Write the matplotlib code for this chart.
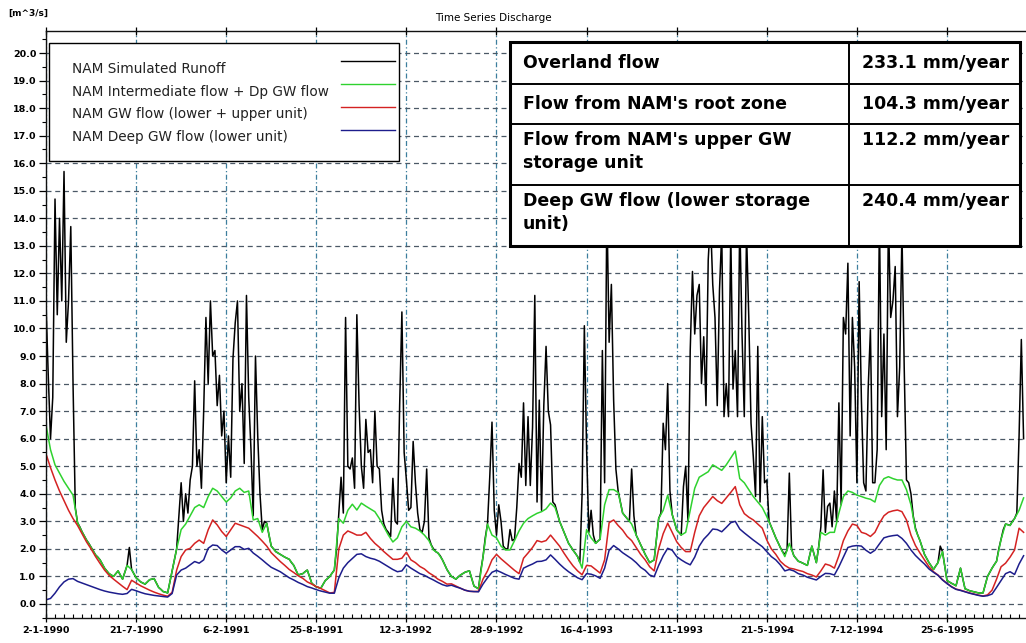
import datetime as dt
import numpy as np
import matplotlib
matplotlib.use("Agg")
import matplotlib.pyplot as plt
from matplotlib.lines import Line2D
from matplotlib.patches import Rectangle
from matplotlib.ticker import FixedLocator, MultipleLocator, FuncFormatter, FormatStrFormatter

plt.rcParams["font.family"] = ["DejaVu Sans"]
plt.rcParams["font.weight"] = "bold"

# discharge in m^3/s, first sample on 2-1-1990
start_date = dt.date(1990, 1, 2)
runoff_step = 5     # days between samples of the simulated runoff
gw_step = 10        # days between samples of the three slower components

runoff = [
    10.9, 8.3, 6.0, 7.5, 14.7, 10.5, 14.0, 11.0, 15.7, 9.5, 11.0, 13.7, 8.0, 3.5, 2.95, 2.8, 2.62, 2.47, 2.32, 2.2,
    2.06, 1.92, 1.78, 1.7, 1.6, 1.45, 1.3, 1.2, 1.1, 1.05, 1.0, 1.1, 1.2, 1.05, 0.9, 1.15, 1.4, 2.05, 1.25, 1.1,
    0.95, 0.88, 0.8, 0.76, 0.72, 0.8, 0.88, 0.9, 0.92, 0.76, 0.6, 0.53, 0.45, 0.43, 0.4, 0.8, 1.2, 1.6, 2.0, 3.2,
    4.4, 3.0, 4.0, 3.3, 4.5, 5.0, 8.1, 5.0, 5.6, 4.2, 7.0, 10.4, 8.0, 11.0, 9.0, 9.2, 7.2, 8.3, 6.1, 7.0,
    4.4, 6.1, 4.6, 8.9, 10.2, 11.0, 7.0, 8.0, 5.1, 11.2, 7.5, 5.6, 3.2, 9.0, 6.1, 4.0, 2.7, 3.0, 2.93, 2.5,
    2.1, 2.0, 1.9, 1.85, 1.8, 1.75, 1.7, 1.66, 1.62, 1.5, 1.4, 1.22, 1.05, 1.08, 1.1, 1.17, 1.23, 0.99, 0.75, 0.68,
    0.62, 0.6, 0.57, 0.71, 0.85, 0.92, 1.0, 1.12, 1.23, 2.0, 3.3, 4.6, 3.3, 10.4, 5.0, 4.9, 5.3, 4.2, 10.5, 7.2,
    5.0, 4.2, 6.7, 5.5, 5.6, 4.4, 7.0, 5.0, 4.9, 3.4, 2.9, 2.7, 2.6, 2.45, 4.56, 3.0, 2.9, 7.2, 10.6, 5.5,
    4.5, 3.4, 3.5, 5.9, 4.4, 3.3, 2.7, 2.6, 3.0, 4.9, 2.4, 2.15, 2.0, 1.9, 1.85, 1.75, 1.6, 1.43, 1.25, 1.12,
    1.0, 0.95, 0.9, 0.98, 1.05, 1.1, 1.15, 1.18, 1.2, 0.93, 0.65, 0.6, 0.55, 1.2, 1.7, 2.4, 2.9, 4.6, 6.6, 3.4,
    2.5, 3.6, 3.0, 2.1, 2.0, 2.0, 2.7, 2.3, 2.35, 3.5, 5.1, 4.6, 7.3, 4.3, 6.8, 4.3, 6.4, 11.2, 3.7, 7.4,
    3.4, 7.2, 9.35, 7.0, 6.5, 3.7, 3.6, 3.3, 3.0, 2.8, 2.6, 2.4, 2.2, 2.08, 1.95, 1.84, 1.72, 1.51, 4.0, 10.1,
    5.6, 2.6, 3.4, 2.5, 2.2, 2.28, 2.35, 9.2, 4.4, 14.5, 9.5, 11.6, 7.4, 4.9, 4.1, 3.7, 3.3, 3.2, 3.1, 3.0,
    4.9, 3.2, 2.5, 2.33, 2.15, 1.98, 1.8, 1.65, 1.5, 1.55, 1.6, 2.35, 3.1, 3.3, 6.56, 5.6, 8.0, 4.1, 3.25, 2.97,
    2.69, 2.6, 2.5, 4.26, 5.0, 3.0, 9.2, 12.07, 9.8, 11.2, 11.6, 8.0, 9.7, 7.2, 12.5, 14.0, 11.6, 10.4, 7.2, 11.4,
    13.5, 6.8, 8.0, 6.8, 13.5, 7.8, 9.2, 6.8, 14.0, 9.8, 6.8, 13.5, 10.4, 6.56, 5.35, 3.9, 9.35, 3.7, 6.8, 4.4,
    4.5, 3.0, 2.8, 2.6, 2.4, 2.23, 2.05, 1.9, 1.8, 1.96, 4.75, 2.0, 1.75, 1.65, 1.55, 1.52, 1.48, 1.44, 1.4, 1.75,
    2.1, 1.8, 1.5, 2.05, 2.8, 4.87, 2.6, 3.54, 3.66, 2.8, 4.1, 3.0, 7.3, 3.6, 10.4, 9.8, 12.37, 6.1, 10.4, 8.6,
    4.4, 11.7, 7.4, 4.4, 4.1, 7.8, 9.95, 4.4, 4.4, 5.6, 14.0, 6.8, 9.8, 5.6, 14.0, 10.4, 11.0, 12.25, 6.8, 8.6,
    13.5, 8.6, 4.5, 4.4, 4.0, 3.2, 2.75, 2.5, 2.3, 2.05, 1.8, 1.65, 1.5, 1.38, 1.25, 1.38, 1.5, 2.1, 1.9, 1.38,
    0.85, 0.8, 0.75, 0.71, 0.66, 0.98, 1.3, 0.93, 0.55, 0.52, 0.48, 0.46, 0.44, 0.42, 0.4, 0.4, 0.4, 0.7, 1.0, 1.15,
    1.3, 1.43, 1.55, 2.0, 2.35, 2.7, 2.9, 2.88, 2.85, 3.0, 3.1, 3.3, 6.1, 9.6, 6.0,
]

interflow_gw = [
    6.5, 5.6, 5.05, 4.75, 4.45, 4.2, 3.95, 2.95, 2.62, 2.32,
    2.06, 1.78, 1.6, 1.3, 1.1, 1.0, 1.2, 0.9, 1.4, 1.25,
    0.95, 0.8, 0.72, 0.88, 0.92, 0.6, 0.45, 0.4, 1.2, 2.0,
    2.7, 2.9, 3.2, 3.5, 3.6, 3.5, 3.9, 4.2, 4.1, 3.9,
    3.7, 3.85, 4.1, 4.2, 4.05, 4.1, 3.05, 3.1, 2.6, 2.93,
    2.1, 1.9, 1.8, 1.7, 1.62, 1.4, 1.05, 1.1, 1.23, 0.75,
    0.62, 0.57, 0.85, 1.0, 1.23, 3.1, 2.93, 3.4, 3.62, 3.41,
    3.66, 3.55, 3.45, 3.35, 3.1, 2.8, 2.5, 2.25, 2.4, 2.8,
    3.0, 2.8, 2.75, 2.65, 2.5, 2.3, 1.96, 1.85, 1.6, 1.25,
    1.0, 0.9, 1.05, 1.15, 1.2, 0.65, 0.55, 1.7, 2.9, 2.5,
    2.4, 2.1, 1.96, 1.96, 2.3, 2.65, 2.93, 3.1, 3.2, 3.29,
    3.35, 3.45, 3.66, 3.5, 3.0, 2.6, 2.2, 1.95, 1.72, 1.3,
    2.7, 2.4, 2.2, 2.35, 3.6, 4.15, 4.15, 4.05, 3.3, 3.1,
    2.9, 2.5, 2.15, 1.8, 1.5, 1.6, 3.1, 3.4, 3.95, 3.25,
    2.69, 2.5, 2.6, 3.4, 4.2, 4.6, 4.7, 4.8, 5.05, 4.95,
    4.85, 5.05, 5.3, 5.55, 4.55, 4.4, 4.15, 3.9, 3.7, 3.5,
    3.17, 2.8, 2.4, 2.05, 1.72, 2.2, 1.75, 1.55, 1.48, 1.4,
    2.1, 1.5, 2.6, 2.5, 2.6, 2.6, 3.3, 3.9, 4.1, 4.05,
    3.95, 3.9, 3.84, 3.8, 3.7, 4.3, 4.55, 4.62, 4.55, 4.5,
    4.5, 4.15, 3.6, 2.7, 2.3, 1.8, 1.5, 1.25, 1.5, 1.9,
    0.85, 0.75, 0.66, 1.3, 0.55, 0.48, 0.44, 0.4, 0.4, 1.0,
    1.3, 1.55, 2.35, 2.9, 2.85, 3.1, 3.4, 3.85,
]

gw_flow = [
    5.45, 4.95, 4.5, 4.1, 3.75, 3.4, 3.1, 2.85, 2.55, 2.25,
    2.0, 1.72, 1.47, 1.23, 1.04, 0.9, 0.77, 0.64, 0.52, 0.86,
    0.76, 0.66, 0.58, 0.5, 0.43, 0.37, 0.32, 0.28, 0.42, 1.23,
    1.72, 1.96, 2.02, 2.2, 2.32, 2.2, 2.69, 3.05, 2.87, 2.63,
    2.45, 2.69, 2.93, 2.87, 2.81, 2.75, 2.6, 2.45, 2.28, 2.1,
    1.86, 1.7, 1.54, 1.4, 1.25, 1.14, 1.02, 0.93, 0.8, 0.72,
    0.63, 0.56, 0.48, 0.4, 0.42, 2.0, 2.5, 2.65, 2.58, 2.5,
    2.5, 2.6, 2.38, 2.2, 2.06, 1.9, 1.76, 1.62, 1.62, 1.66,
    1.88, 1.6, 1.5, 1.36, 1.27, 1.13, 1.03, 0.9, 0.82, 0.72,
    0.73, 0.65, 0.57, 0.5, 0.46, 0.45, 0.46, 0.9, 1.2, 1.6,
    1.8, 1.64, 1.5, 1.36, 1.22, 1.1, 1.66, 1.85, 2.05, 2.3,
    2.25, 2.3, 2.5, 2.3, 2.1, 1.84, 1.6, 1.38, 1.2, 1.06,
    1.4, 1.38, 1.25, 1.12, 1.6, 2.95, 3.05, 2.85, 2.68, 2.45,
    2.3, 2.05, 1.8, 1.6, 1.35, 1.2, 2.0, 2.55, 2.93, 2.6,
    2.26, 2.05, 1.9, 1.9, 2.6, 3.2, 3.5, 3.7, 3.9, 3.75,
    3.65, 3.85, 4.05, 4.26, 3.6, 3.28, 3.15, 3.05, 2.9, 2.75,
    2.32, 2.0, 1.8, 1.55, 1.4, 1.3, 1.27, 1.22, 1.18, 1.1,
    1.05, 0.98, 1.2, 1.45, 1.4, 1.3, 1.75, 2.3, 2.65, 2.9,
    2.85, 2.6, 2.55, 2.45, 2.6, 2.93, 3.2, 3.33, 3.38, 3.41,
    3.35, 3.05, 2.5, 2.12, 1.85, 1.6, 1.35, 1.17, 1.05, 0.88,
    0.75, 0.63, 0.54, 0.5, 0.45, 0.4, 0.36, 0.32, 0.29, 0.33,
    0.5, 0.9, 1.35, 1.48, 1.7, 1.96, 2.75, 2.6,
]

deep_gw = [
    0.15, 0.2, 0.39, 0.62, 0.8, 0.9, 0.92, 0.82, 0.76, 0.7,
    0.64, 0.58, 0.52, 0.47, 0.43, 0.4, 0.37, 0.35, 0.38, 0.53,
    0.48, 0.42, 0.37, 0.34, 0.31, 0.29, 0.27, 0.25, 0.38, 1.05,
    1.23, 1.3, 1.42, 1.54, 1.48, 1.6, 2.02, 2.14, 2.12, 1.96,
    1.84, 1.96, 2.08, 2.08, 1.98, 2.02, 1.85, 1.73, 1.6, 1.46,
    1.33, 1.25, 1.17, 1.06, 0.95, 0.87, 0.78, 0.71, 0.63, 0.58,
    0.52, 0.47, 0.43, 0.39, 0.39, 0.95, 1.3, 1.5, 1.65, 1.8,
    1.82, 1.72, 1.66, 1.62, 1.55, 1.45, 1.35, 1.25, 1.17, 1.2,
    1.42, 1.3, 1.2, 1.1, 1.04, 0.95, 0.87, 0.78, 0.7, 0.65,
    0.68, 0.62, 0.57, 0.5, 0.46, 0.45, 0.44, 0.72, 0.95, 1.15,
    1.22, 1.15, 1.07, 1.0, 0.93, 0.9, 1.3, 1.38, 1.45, 1.54,
    1.55, 1.6, 1.78, 1.62, 1.45, 1.3, 1.17, 1.06, 0.95, 0.88,
    1.1, 1.08, 1.02, 0.93, 1.3, 1.95, 2.12, 2.0, 1.86, 1.75,
    1.64, 1.5, 1.33, 1.22, 1.05, 0.99, 1.4, 1.75, 2.02, 1.95,
    1.72, 1.6, 1.5, 1.42, 1.7, 2.1, 2.35, 2.52, 2.72, 2.7,
    2.62, 2.78, 2.95, 3.0, 2.72, 2.58, 2.45, 2.32, 2.2, 2.08,
    1.9, 1.72, 1.6, 1.42, 1.2, 1.25, 1.2, 1.1, 1.05, 0.97,
    0.92, 0.87, 1.0, 1.11, 1.1, 1.05, 1.35, 1.7, 2.05, 2.1,
    2.12, 2.1, 1.95, 1.84, 1.95, 2.18, 2.4, 2.45, 2.48, 2.5,
    2.38, 2.2, 1.96, 1.76, 1.6, 1.45, 1.27, 1.15, 1.04, 0.87,
    0.74, 0.62, 0.53, 0.49, 0.44, 0.39, 0.35, 0.31, 0.28, 0.3,
    0.36, 0.6, 0.85, 1.1, 1.17, 1.07, 1.45, 1.75,
]

legend_labels = [
    "NAM Simulated Runoff",
    "NAM Intermediate flow + Dp GW flow",
    "NAM GW flow (lower + upper unit)",
    "NAM Deep GW flow (lower unit)",
]
line_colors = ["#000000", "#2fd22f", "#d42222", "#1d1d8c"]

budget_terms = [
    "Overland flow",
    "Flow from NAM's root zone",
    "Flow from NAM's upper GW\nstorage unit",
    "Deep GW flow (lower storage\nunit)",
]
budget_mm = [233.1, 104.3, 112.2, 240.4]

W, H = 1026, 643


def fx(px):
    return px / W


def fy(py):
    return 1 - py / H


def date_label(x, pos):
    d = start_date + dt.timedelta(days=int(round(x)))
    return f"{d.day}-{d.month}-{d.year}"


fig = plt.figure(figsize=(W / 100, H / 100), dpi=100)
ax = fig.add_axes([fx(46), fy(618), (1038 - 46) / W, (618 - 31) / H])

days_runoff = np.arange(len(runoff)) * runoff_step
days_gw = np.arange(len(deep_gw)) * gw_step
ax.plot(days_runoff, runoff, color=line_colors[0], lw=1.1)
ax.plot(days_gw, interflow_gw, color=line_colors[1], lw=1.1)
ax.plot(days_gw, gw_flow, color=line_colors[2], lw=1.1)
ax.plot(days_gw, deep_gw, color=line_colors[3], lw=1.1)

ax.set_xlim(0, 2202)
ax.set_ylim(-0.51, 20.8)

ax.xaxis.set_major_locator(FixedLocator(np.arange(0, 2001, 200)))
ax.xaxis.set_minor_locator(MultipleLocator(20))
ax.xaxis.set_major_formatter(FuncFormatter(date_label))
ax.yaxis.set_major_locator(MultipleLocator(1))
ax.yaxis.set_minor_locator(MultipleLocator(0.5))
ax.yaxis.set_major_formatter(FormatStrFormatter("%.1f"))

ax.grid(axis="y", which="major", color="#4b5866", ls=(0, (4, 3)), lw=0.9)
ax.grid(axis="x", which="major", color="#3d7f9e", ls=(0, (4, 2, 1, 2)), lw=0.9)

ax.spines["right"].set_visible(False)
for s in ["left", "bottom", "top"]:
    ax.spines[s].set_linewidth(1.0)
    ax.spines[s].set_color("#111111")

ax.tick_params(axis="x", which="major", top=True, bottom=True, direction="inout",
               length=6, width=0.9, labelsize=6.8, pad=3)
ax.tick_params(axis="x", which="minor", top=False, bottom=True, direction="in",
               length=3, width=0.8)
ax.tick_params(axis="y", which="major", direction="out", length=5, width=0.9,
               labelsize=6.8, pad=2)
ax.tick_params(axis="y", which="minor", direction="out", length=3, width=0.8)

fig.text(fx(493), fy(18), "Time Series Discharge", ha="center", va="center",
         fontsize=7.5, fontweight="normal")
fig.text(fx(8), fy(13), "[m^3/s]", ha="left", va="center", fontsize=6.5)

# legend box with the line samples on the right
fig.add_artist(Rectangle((fx(49), fy(161)), 350 / W, 118 / H, transform=fig.transFigure,
                         facecolor="white", edgecolor="black", lw=1.0, zorder=5))
text_rows = [69, 92, 114, 137]
line_rows = [61, 84, 107, 130]
for label, color, ty, ly in zip(legend_labels, line_colors, text_rows, line_rows):
    fig.text(fx(72), fy(ty), label, ha="left", va="center", fontsize=9.8,
             fontweight="normal", color="#222222", zorder=6)
    fig.add_artist(Line2D([fx(341), fx(395)], [fy(ly), fy(ly)], transform=fig.transFigure,
                          color=color, lw=1.0, zorder=6))

# water balance table
tx0, tx1, tdiv = 510, 1020, 849
row_edges = [42, 84, 124, 185, 246]
fig.add_artist(Rectangle((fx(tx0), fy(row_edges[-1])), (tx1 - tx0) / W,
                         (row_edges[-1] - row_edges[0]) / H, transform=fig.transFigure,
                         facecolor="white", edgecolor="black", lw=2.2, zorder=5))
for ry in row_edges[1:-1]:
    fig.add_artist(Line2D([fx(tx0), fx(tx1)], [fy(ry), fy(ry)], transform=fig.transFigure,
                          color="black", lw=1.4, zorder=6))
fig.add_artist(Line2D([fx(tdiv), fx(tdiv)], [fy(row_edges[0]), fy(row_edges[-1])],
                      transform=fig.transFigure, color="black", lw=1.4, zorder=6))
for i, (term, mm) in enumerate(zip(budget_terms, budget_mm)):
    top, bot = row_edges[i], row_edges[i + 1]
    if "\n" in term:
        fig.text(fx(523), fy(top + 7), term, ha="left", va="top", fontsize=12.5,
                 linespacing=1.35, zorder=7)
        fig.text(fx(862), fy(top + 7), f"{mm:.1f} mm/year", ha="left", va="top",
                 fontsize=12.5, zorder=7)
    else:
        mid = (top + bot) / 2
        fig.text(fx(523), fy(mid), term, ha="left", va="center", fontsize=12.5, zorder=7)
        fig.text(fx(862), fy(mid), f"{mm:.1f} mm/year", ha="left", va="center",
                 fontsize=12.5, zorder=7)

fig.savefig("out.png", dpi=100)
